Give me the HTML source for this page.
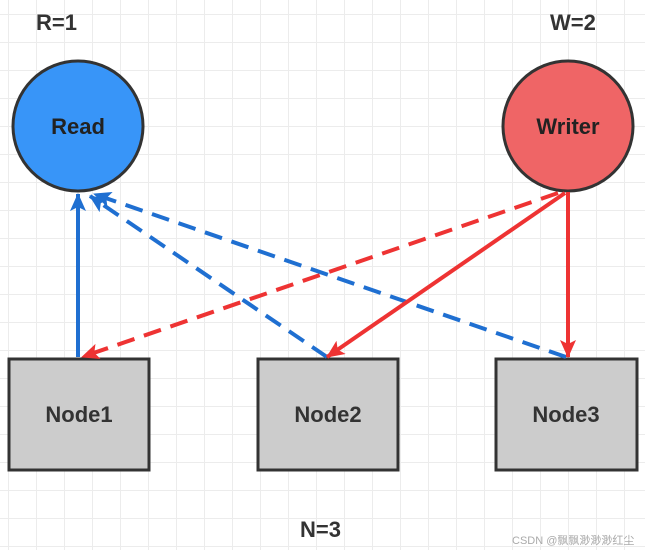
<!DOCTYPE html>
<html><head><style>
body{margin:0;width:645px;height:550px;overflow:hidden;background:#fff;
background-image:linear-gradient(#ececec 1px,transparent 1px),linear-gradient(90deg,#ececec 1px,transparent 1px);
background-size:28px 28px;background-position:8px 14px;font-family:"Liberation Sans","Noto Sans CJK SC",sans-serif}
</style></head><body>
<svg width="645" height="550" style="position:absolute;left:0;top:0">
<defs>
<marker id="b" markerWidth="18" markerHeight="16" refX="17" refY="8" orient="auto" markerUnits="userSpaceOnUse" viewBox="0 0 18 16"><path d="M0,0 L18,8 L0,16 L4,8 z" fill="#1f6fd1"/></marker>
<marker id="r" markerWidth="18" markerHeight="16" refX="17" refY="8" orient="auto" markerUnits="userSpaceOnUse" viewBox="0 0 18 16"><path d="M0,0 L18,8 L0,16 L4,8 z" fill="#ee3333"/></marker>
</defs>
<text x="36" y="30" font-size="22" font-weight="bold" fill="#333">R=1</text>
<text x="550" y="30" font-size="22" font-weight="bold" fill="#333">W=2</text>
<text x="300" y="537" font-size="22" font-weight="bold" fill="#333">N=3</text>
<circle cx="78" cy="126" r="65" fill="#3895f8" stroke="#333" stroke-width="3"/>
<text x="78" y="134" font-size="22" font-weight="bold" fill="#222" text-anchor="middle">Read</text>
<circle cx="568" cy="126" r="65" fill="#ef6566" stroke="#333" stroke-width="3"/>
<text x="568" y="134" font-size="22" font-weight="bold" fill="#222" text-anchor="middle">Writer</text>
<g fill="#cccccc" stroke="#333" stroke-width="3">
<rect x="9" y="359" width="140" height="111"/>
<rect x="258" y="359" width="140" height="111"/>
<rect x="496" y="359" width="141" height="111"/>
</g>
<g font-size="22" font-weight="bold" fill="#333" text-anchor="middle">
<text x="79" y="422">Node1</text><text x="328" y="422">Node2</text><text x="566" y="422">Node3</text>
</g>
<g stroke-width="4" fill="none">
<line x1="78" y1="357" x2="78" y2="194" stroke="#1f6fd1" marker-end="url(#b)"/>
<line x1="327" y1="357" x2="90" y2="196" stroke="#1f6fd1" stroke-dasharray="18,10" marker-end="url(#b)"/>
<line x1="566" y1="357" x2="94" y2="194" stroke="#1f6fd1" stroke-dasharray="18,10" marker-end="url(#b)"/>
<line x1="558" y1="193" x2="82" y2="357" stroke="#ee3333" stroke-dasharray="18,10" marker-end="url(#r)"/>
<line x1="565" y1="193" x2="327" y2="357" stroke="#ee3333" marker-end="url(#r)"/>
<line x1="568" y1="192" x2="568" y2="357" stroke="#ee3333" marker-end="url(#r)"/>
</g>
<text x="512" y="544" font-size="11" fill="#aaa">CSDN @飘飘渺渺渺红尘</text>
</svg>
</body></html>
